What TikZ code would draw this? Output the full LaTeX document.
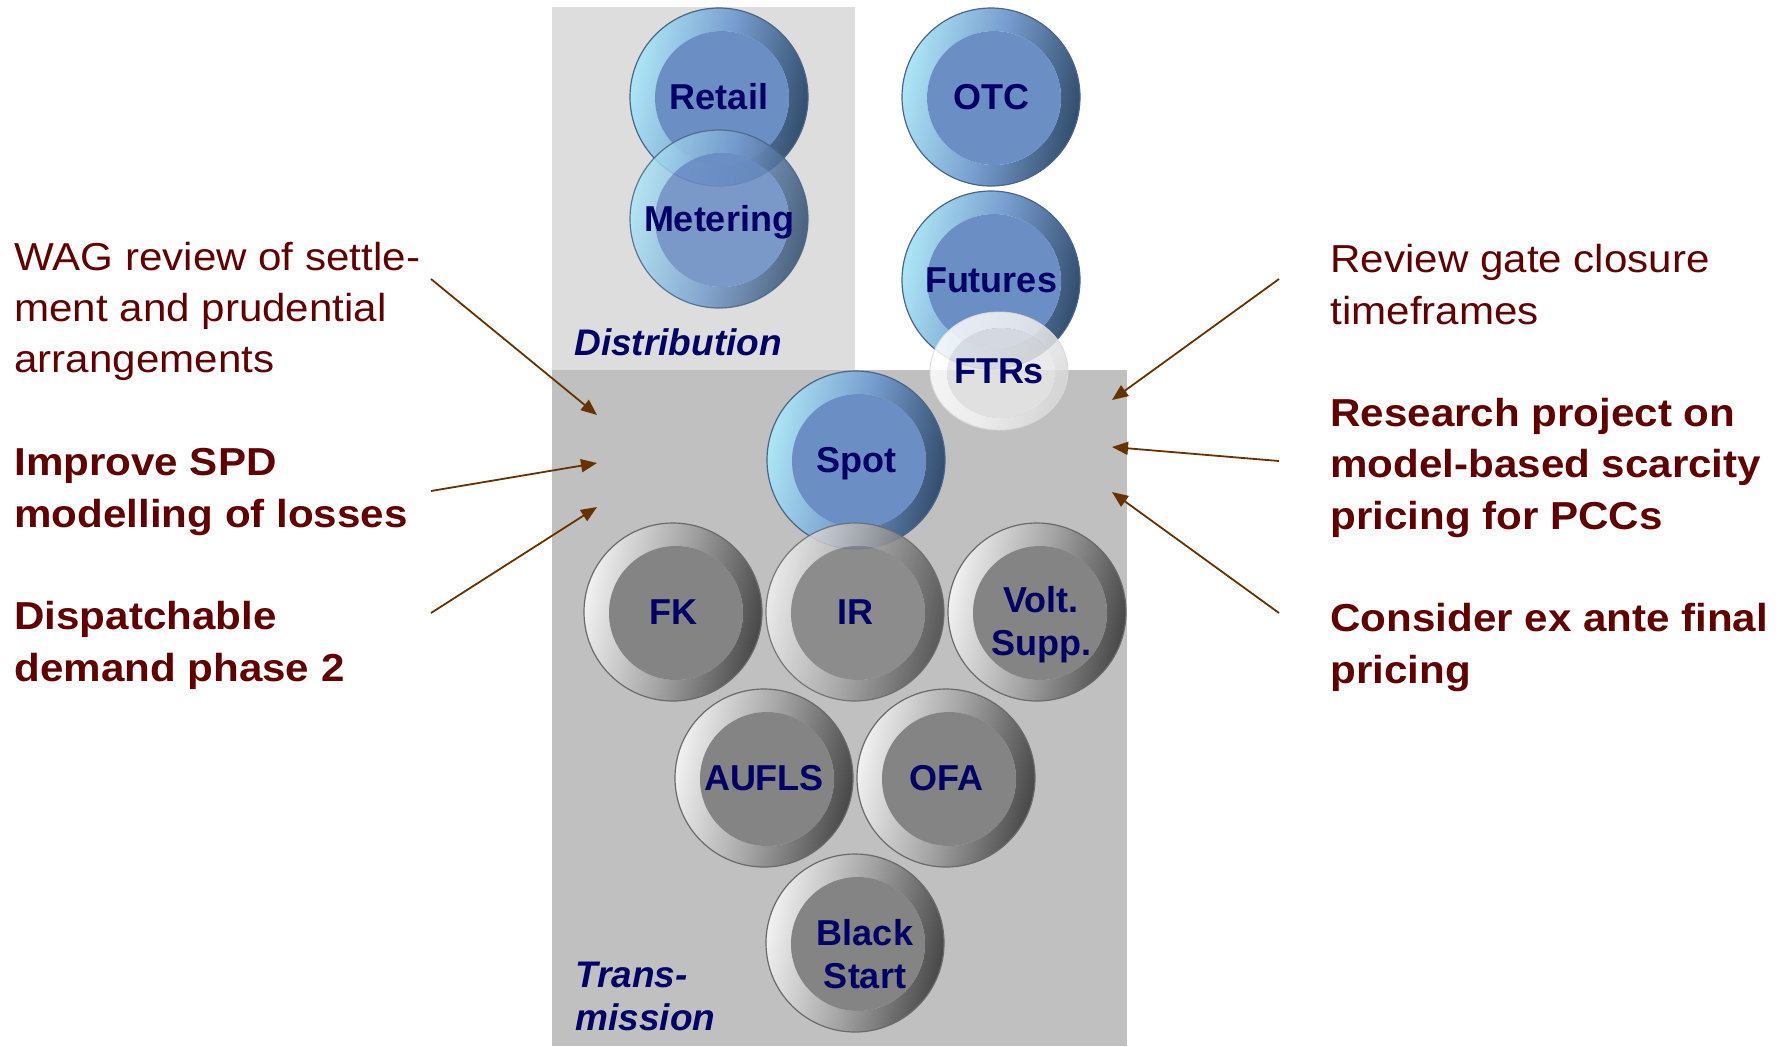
\documentclass[tikz,border=0pt]{standalone}
\usepackage{fontspec}
\setmainfont{Liberation Sans}
\usetikzlibrary{arrows.meta,shapes.geometric}
\definecolor{navytxt}{HTML}{000066}
\definecolor{lblred}{HTML}{600000}
\definecolor{arrowbrown}{HTML}{663300}
\definecolor{distbg}{HTML}{DDDDDD}
\definecolor{transbg}{HTML}{C0C0C0}
\definecolor{bluelite}{HTML}{AEE6F6}
\definecolor{bluemid}{HTML}{779DCE}
\definecolor{bluedark}{HTML}{324C6C}
\definecolor{blueinner}{HTML}{6B8EC5}
\definecolor{blueedge}{HTML}{4A6585}
\definecolor{graylite}{HTML}{F2F2F2}
\definecolor{graymid}{HTML}{A4A4A4}
\definecolor{graydark}{HTML}{474747}
\definecolor{grayinner}{HTML}{848484}
\definecolor{grayedge}{HTML}{6A6A6A}
\definecolor{whitelite}{HTML}{FFFFFF}
\definecolor{whitemid}{HTML}{F4F4F4}
\definecolor{whitedark}{HTML}{D8D8D8}
\definecolor{whiteinner}{HTML}{E6E6E6}
\definecolor{whiteedge}{HTML}{DADADA}
\tikzset{
  btnbase/.style={circle, inner sep=0pt, outer sep=0pt, minimum size=89pt,
    font=\fontsize{18}{21.5}\selectfont\bfseries, text=navytxt, align=center, line width=0.6pt},
  oneline/.style={text height=12.9pt, text depth=0pt},
  twoline/.style={text height=#1, text depth=0pt},
  btnpaint/.style n args={5}{btnbase, draw=#5,
    path picture={
      \shade[even odd rule, top color=#1, bottom color=#3, middle color=#2, shading angle=78]
        (path picture bounding box.center) circle (45pt)
        ([shift={(1.5pt,-0.5pt)}]path picture bounding box.center) circle (33.5pt);
      \fill[#4] ([shift={(1.5pt,-0.5pt)}]path picture bounding box.center) circle (33.5pt);
    }},
  bluebtn/.style={btnpaint={bluelite}{bluemid}{bluedark}{blueinner}{blueedge}},
  graybtn/.style={btnpaint={graylite}{graymid}{graydark}{grayinner}{grayedge}},
  seethrough/.style={fill opacity=0.85, draw opacity=0.85, text opacity=1},
  whitebtn/.style={ellipse, inner sep=0pt, outer sep=0pt, minimum width=69pt, minimum height=59pt,
    font=\fontsize{18}{21.5}\selectfont\bfseries, text=navytxt, draw=whiteedge, line width=0.5pt,
    path picture={
      \shade[even odd rule, top color=whitelite, bottom color=whitedark, middle color=whitemid, shading angle=70]
        (path picture bounding box.center) ellipse [x radius=35pt, y radius=30pt]
        ([shift={(1pt,-1pt)}]path picture bounding box.center) ellipse [x radius=27pt, y radius=22.5pt];
      \fill[whiteinner] ([shift={(1pt,-1pt)}]path picture bounding box.center) ellipse [x radius=27pt, y radius=22.5pt];
    }},
  arealbl/.style={font=\fontsize{18.5}{21.5}\selectfont\bfseries\itshape, text=navytxt, inner sep=0pt, align=left},
  sidelbl/.style={font=\fontsize{19.5}{25.65}\selectfont, text=lblred, inner sep=0pt, align=left, xscale=1.08},
  sideboldlbl/.style={sidelbl, font=\fontsize{19.5}{25.65}\selectfont\bfseries},
  pointer/.style={draw=arrowbrown, line width=0.9pt, -{Triangle[length=8pt, width=6.5pt]}}
}
\begin{document}
\begin{tikzpicture}[x=0.5pt, y=-0.5pt]
\useasboundingbox (0,0) rectangle (1783,1046);
% background areas
\fill[distbg] (552,7) rectangle (855,370);
\fill[transbg] (552,370) rectangle (1127,1046);
% distribution / market buttons
\node[bluebtn, oneline] (retail) at (719,97) {Retail};
\node[bluebtn, oneline, seethrough] (metering) at (719,219) {Metering};
\node[bluebtn, oneline] (otc) at (991,97) {OTC};
\node[bluebtn, oneline] (futures) at (991,280) {Futures};
\node[whitebtn, oneline, seethrough] (ftrs) at (999,371) {FTRs};
% transmission buttons
\node[bluebtn, oneline] (spot) at (856,460) {Spot};
\node[graybtn, oneline] (fk) at (673,612) {FK};
\node[graybtn, oneline, seethrough] (ir) at (855,612) {IR};
\node[graybtn, twoline=43pt] (volt) at (1037,612) {\hspace*{4pt}Volt.\\\hspace*{4pt}Supp.};
\node[graybtn, oneline] (aufls) at (764,778) {AUFLS};
\node[graybtn, oneline] (ofa) at (946,778) {OFA};
\node[graybtn, twoline=45pt] (black) at (855,943) {\hspace*{10pt}Black\\\hspace*{10pt}Start};
% area labels
\node[arealbl, anchor=base west] (distlbl) at (574,355) {Distribution};
\node[arealbl, anchor=base west] (translbl) at (575,1030) {Trans-\\mission};
% side texts (anchor at baseline of last line)
\node[sidelbl, anchor=base west] (wag) at (14,372.7) {WAG review of settle-\\ment and prudential\\arrangements};
\node[sideboldlbl, anchor=base west] (spd) at (14,527) {Improve SPD\\modelling of losses};
\node[sideboldlbl, anchor=base west] (dd) at (14,681) {Dispatchable\\demand phase 2};
\node[sidelbl, anchor=base west] (gate) at (1330,324) {Review gate closure\\timeframes};
\node[sideboldlbl, anchor=base west] (research) at (1330,529) {Research project on\\model-based scarcity\\pricing for PCCs};
\node[sideboldlbl, anchor=base west] (exante) at (1330,683) {Consider ex ante final\\pricing};
% arrow ends
\coordinate (l1s) at (431,279); \coordinate (l1e) at (597,415);
\coordinate (l2s) at (431,491); \coordinate (l2e) at (597,463);
\coordinate (l3s) at (431,613); \coordinate (l3e) at (597,507);
\coordinate (r1s) at (1279,279); \coordinate (r1e) at (1112,400);
\coordinate (r2s) at (1279,461); \coordinate (r2e) at (1112,447);
\coordinate (r3s) at (1279,613); \coordinate (r3e) at (1112,492);
\draw[pointer] (l1s) -- (l1e);
\draw[pointer] (l2s) -- (l2e);
\draw[pointer] (l3s) -- (l3e);
\draw[pointer] (r1s) -- (r1e);
\draw[pointer] (r2s) -- (r2e);
\draw[pointer] (r3s) -- (r3e);
\end{tikzpicture}
\end{document}
